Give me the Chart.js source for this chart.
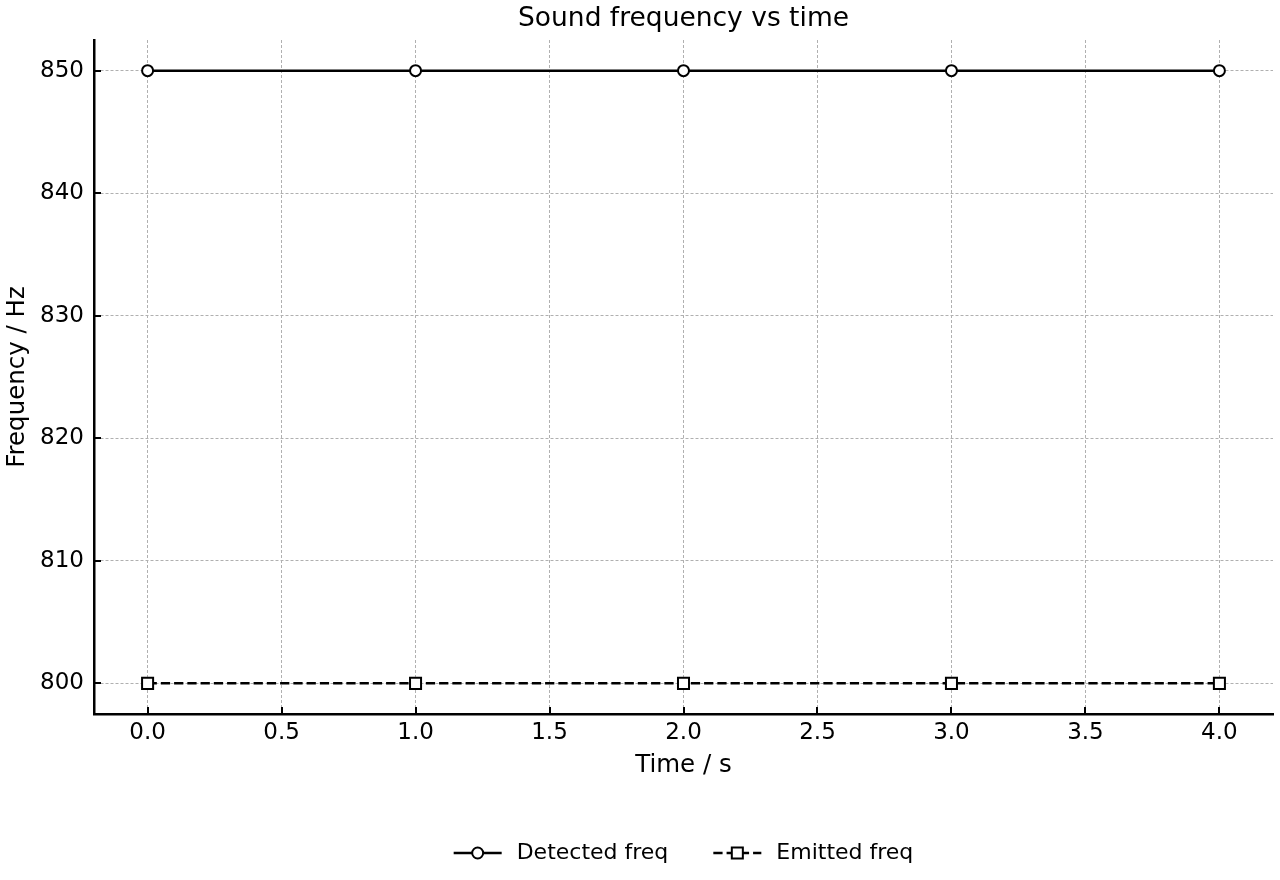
<!DOCTYPE html>
<html>
<head>
<meta charset="utf-8">
<title>Sound frequency vs time</title>
<script src="https://cdn.jsdelivr.net/npm/chart.js@4.4.1/dist/chart.umd.min.js"></script>
<style>
  html, body { margin: 0; padding: 0; background: #fff; }
  #wrap { width: 1280px; height: 880px; }
</style>
</head>
<body>
<div id="wrap"><canvas id="chart" width="1280" height="880"></canvas></div>
<script>
var timeValues = [0, 1, 2, 3, 4];
var detectedFreq = [850, 850, 850, 850, 850];
var emittedFreq = [800, 800, 800, 800, 800];
var xTicks = [0, 0.5, 1, 1.5, 2, 2.5, 3, 3.5, 4];
var yTicks = [800, 810, 820, 830, 840, 850];
var seriesLabels = ['Detected freq', 'Emitted freq'];

var FONT = "'DejaVu Sans', sans-serif";
Chart.defaults.font.family = FONT;
Chart.defaults.color = '#000';

function toPoints(ys) {
  return timeValues.map(function (t, i) { return { x: t, y: ys[i] }; });
}

// matplotlib-style inward tick marks
var inwardTicks = {
  id: 'inwardTicks',
  afterDraw: function (chart) {
    var ctx = chart.ctx, area = chart.chartArea;
    var xs = chart.scales.x, ys = chart.scales.y;
    ctx.save();
    ctx.strokeStyle = '#000';
    ctx.lineWidth = 2;
    ctx.beginPath();
    xs.ticks.forEach(function (t) {
      var px = Math.round(xs.getPixelForValue(t.value));
      ctx.moveTo(px, area.bottom);
      ctx.lineTo(px, area.bottom - 7);
    });
    ys.ticks.forEach(function (t) {
      var py = Math.round(ys.getPixelForValue(t.value));
      ctx.moveTo(area.left, py);
      ctx.lineTo(area.left + 7, py);
    });
    ctx.stroke();
    ctx.restore();
  }
};

// legend with line + marker handles, below the axis
var lineLegend = {
  id: 'lineLegend',
  afterDraw: function (chart) {
    var ctx = chart.ctx, area = chart.chartArea;
    var handle = 48, gapText = 15, gapItem = 45, y = 853;
    ctx.save();
    ctx.font = '22px ' + FONT;
    var sets = chart.data.datasets;
    var widths = sets.map(function (d) { return ctx.measureText(d.label).width; });
    var total = 0;
    widths.forEach(function (w, i) { total += handle + gapText + w + (i ? gapItem : 0); });
    var x = (area.left + area.right) / 2 - total / 2;
    sets.forEach(function (d, i) {
      ctx.strokeStyle = d.borderColor;
      ctx.lineWidth = d.borderWidth;
      ctx.setLineDash(d.borderDash || []);
      ctx.beginPath();
      ctx.moveTo(x, y);
      ctx.lineTo(x + handle, y);
      ctx.stroke();
      ctx.setLineDash([]);
      ctx.fillStyle = d.pointBackgroundColor;
      ctx.lineWidth = d.pointBorderWidth;
      ctx.strokeStyle = d.pointBorderColor;
      ctx.beginPath();
      if (d.pointStyle === 'rect') {
        var s = d.pointRadius * Math.SQRT1_2;
        ctx.rect(x + handle / 2 - s, y - s, 2 * s, 2 * s);
      } else {
        ctx.arc(x + handle / 2, y, d.pointRadius, 0, Math.PI * 2);
      }
      ctx.fill();
      ctx.stroke();
      ctx.fillStyle = '#000';
      ctx.textBaseline = 'middle';
      ctx.textAlign = 'left';
      ctx.fillText(d.label, x + handle + gapText, y);
      x += handle + gapText + widths[i] + gapItem;
    });
    ctx.restore();
  }
};

var gridStyle = { color: '#b0b0b0', lineWidth: 1, drawTicks: false };
var gridDash = [3, 2];

new Chart(document.getElementById('chart'), {
  type: 'line',
  data: {
    datasets: [
      {
        label: seriesLabels[0],
        data: toPoints(detectedFreq),
        borderColor: '#000',
        borderWidth: 2.5,
        tension: 0,
        pointStyle: 'circle',
        pointRadius: 5.5,
        pointBorderWidth: 2,
        pointBackgroundColor: '#fff',
        pointBorderColor: '#000'
      },
      {
        label: seriesLabels[1],
        data: toPoints(emittedFreq),
        borderColor: '#000',
        borderWidth: 2.5,
        borderDash: [9.25, 4],
        tension: 0,
        pointStyle: 'rect',
        pointRadius: 7.8,
        pointBorderWidth: 2,
        pointBackgroundColor: '#fff',
        pointBorderColor: '#000'
      }
    ]
  },
  options: {
    responsive: false,
    animation: false,
    devicePixelRatio: 1,
    layout: { autoPadding: false, padding: { left: 0, right: 7, top: 0, bottom: 100 } },
    plugins: {
      legend: { display: false },
      tooltip: { enabled: false },
      title: {
        display: true,
        fullSize: false,
        text: 'Sound frequency vs time',
        color: '#000',
        font: { size: 26.5, weight: 'normal' },
        padding: { top: 3, bottom: 5.2 }
      }
    },
    scales: {
      x: {
        type: 'linear',
        min: -0.2,
        max: 4.2,
        afterBuildTicks: function (s) { s.ticks = xTicks.map(function (v) { return { value: v }; }); },
        afterFit: function (s) { s.height = 66; s.paddingLeft = 0; s.paddingRight = 0; },
        grid: gridStyle,
        border: { display: true, color: '#000', width: 2.5, dash: gridDash },
        ticks: {
          padding: 5,
          color: '#000',
          font: { size: 23 },
          maxRotation: 0,
          callback: function (v) { return Number(v).toFixed(1); }
        },
        title: {
          display: true,
          text: 'Time / s',
          color: '#000',
          font: { size: 24.5 },
          padding: { top: 0, bottom: 0 }
        }
      },
      y: {
        type: 'linear',
        min: 797.5,
        max: 852.5,
        afterBuildTicks: function (s) { s.ticks = yTicks.map(function (v) { return { value: v }; }); },
        afterFit: function (s) { s.width = 94; },
        grid: gridStyle,
        border: { display: true, color: '#000', width: 2.5, dash: gridDash },
        ticks: {
          padding: 10,
          color: '#000',
          font: { size: 23 },
          callback: function (v) { return String(v); }
        },
        title: {
          display: true,
          text: 'Frequency / Hz',
          color: '#000',
          font: { size: 24.5 },
          padding: { top: 3, bottom: 0 }
        }
      }
    }
  },
  plugins: [inwardTicks, lineLegend]
});
</script>
</body>
</html>
